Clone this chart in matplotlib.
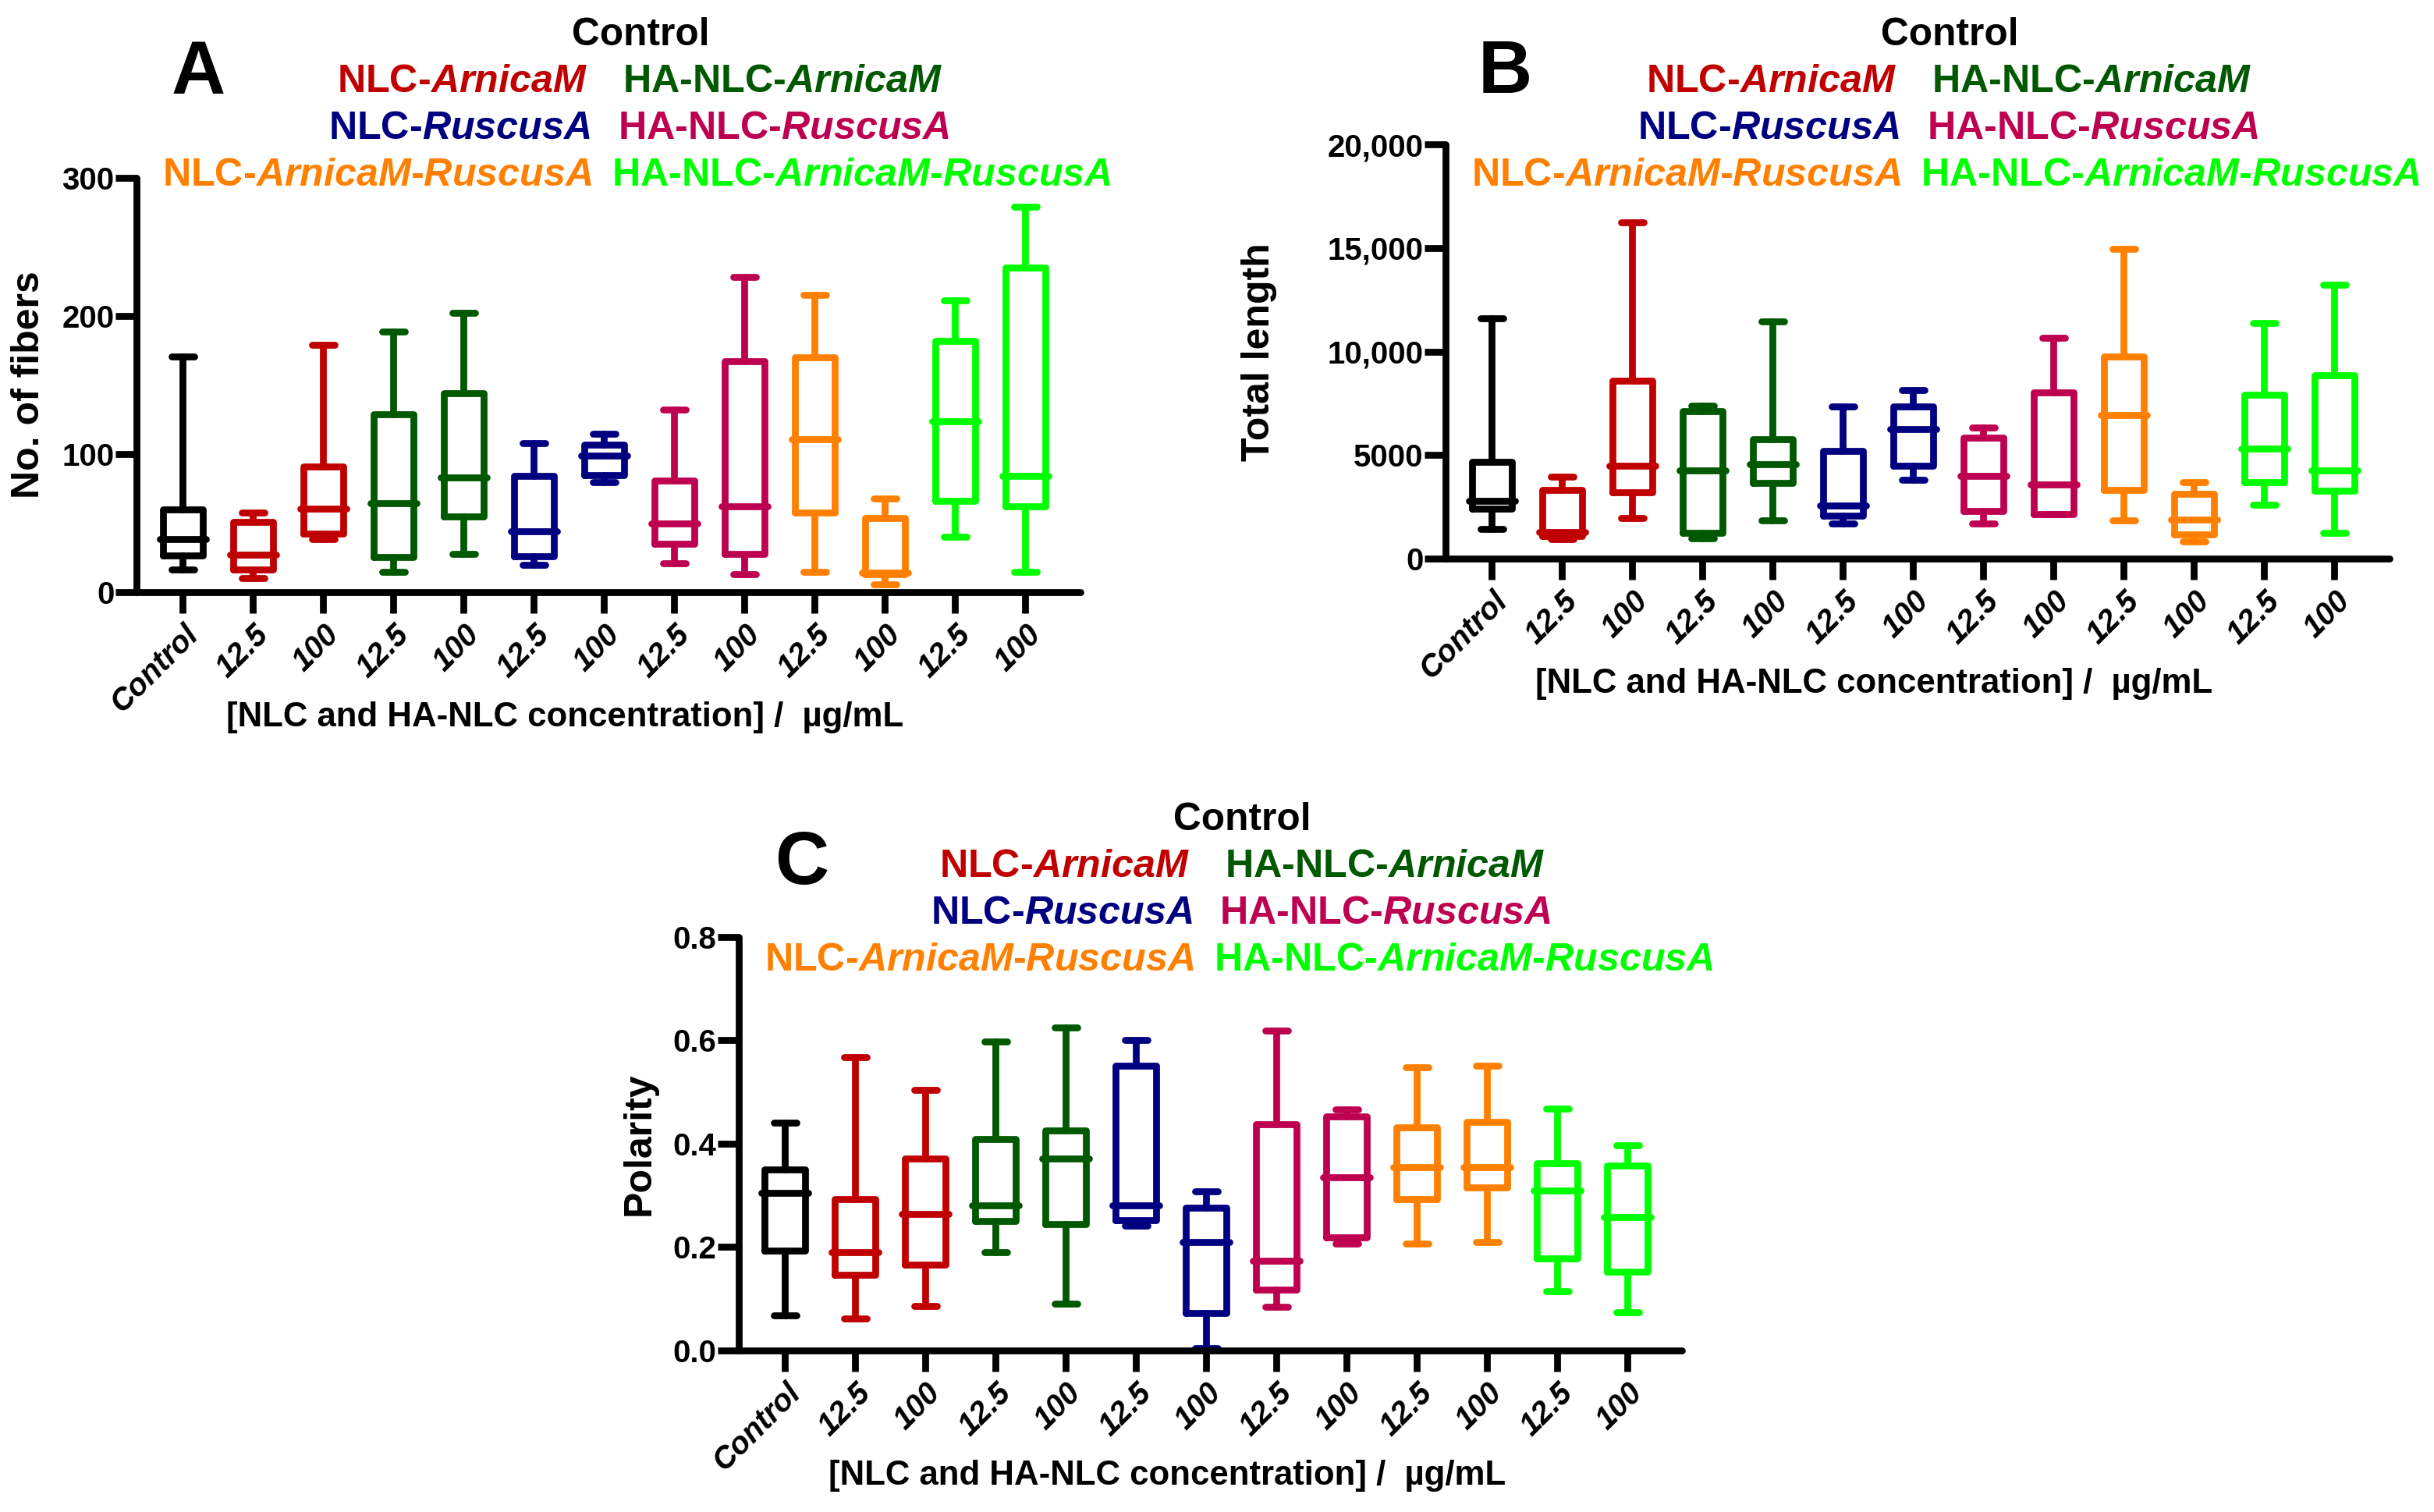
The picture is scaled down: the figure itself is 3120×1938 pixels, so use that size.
import matplotlib
matplotlib.use("Agg")
import matplotlib.pyplot as plt
from matplotlib.transforms import ScaledTranslation

#%% Data

categories = ["Control", "12.5", "100", "12.5", "100", "12.5", "100",
              "12.5", "100", "12.5", "100", "12.5", "100"]

black, red, dgreen, navy = "#000000", "#C00000", "#005800", "#000080"
crimson, orange, lime = "#BE0050", "#FF8000", "#00FF00"
box_colors = [black, red, red, dgreen, dgreen, navy, navy,
              crimson, crimson, orange, orange, lime, lime]

legend_rows = [
    ("NLC-$\\mathit{ArnicaM}$", red, "HA-NLC-$\\mathit{ArnicaM}$", dgreen),
    ("NLC-$\\mathit{RuscusA}$", navy, "HA-NLC-$\\mathit{RuscusA}$", crimson),
    ("NLC-$\\mathit{ArnicaM}$-$\\mathit{RuscusA}$", orange,
     "HA-NLC-$\\mathit{ArnicaM}$-$\\mathit{RuscusA}$", lime),
]

# A: number of fibers
fib_lo = [16.5, 10.5, 38.7, 14.7, 28, 20, 80, 21, 13, 15, 6, 40, 15]
fib_q1 = [26.9, 16.5, 42.3, 25.6, 55, 26, 85, 35, 28, 58, 13, 66, 62]
fib_med = [38.5, 27.3, 60.4, 64.5, 83, 44, 99, 50, 62, 111, 14, 124, 84]
fib_q3 = [59.8, 50.8, 90.9, 129, 144, 84, 107, 81, 167, 170, 54, 182, 235]
fib_hi = [170.8, 57.9, 178.9, 188.7, 202, 108, 115, 132, 228, 215, 68, 211, 279]

# B: total length
len_lo = [1420, 953, 1948, 980, 1850, 1690, 3790, 1690, 2130, 1850, 820, 2610, 1260]
len_q1 = [2423, 1105, 3203, 1232, 3660, 2060, 4500, 2290, 2150, 3310, 1170, 3680, 3290]
len_med = [2800, 1270, 4495, 4246, 4570, 2580, 6260, 4000, 3590, 6930, 1870, 5300, 4250]
len_q3 = [4684, 3304, 8580, 7133, 5760, 5210, 7360, 5850, 8020, 9760, 3110, 7930, 8870]
len_hi = [11594, 3968, 16240, 7385, 11470, 7340, 8140, 6350, 10670, 14970, 3700, 11380, 13230]

# C: polarity
pol_lo = [0.068, 0.062, 0.086, 0.190, 0.091, 0.241, 0.005, 0.084, 0.207, 0.207, 0.210, 0.115, 0.074]
pol_q1 = [0.193, 0.147, 0.166, 0.251, 0.244, 0.252, 0.073, 0.118, 0.218, 0.292, 0.315, 0.178, 0.153]
pol_med = [0.305, 0.190, 0.264, 0.281, 0.371, 0.280, 0.209, 0.173, 0.335, 0.355, 0.354, 0.310, 0.258]
pol_q3 = [0.350, 0.292, 0.371, 0.409, 0.425, 0.551, 0.276, 0.438, 0.452, 0.431, 0.442, 0.362, 0.358]
pol_hi = [0.440, 0.567, 0.504, 0.597, 0.625, 0.600, 0.307, 0.618, 0.466, 0.547, 0.550, 0.467, 0.397]

xlabel = "[NLC and HA-NLC concentration] /  \u00b5g/mL"

#%% Style

W, H, DPI = 3120, 1938, 100
LW = 6.3
AX_W = 1209.6

plt.rcParams["font.family"] = ["Liberation Sans", "DejaVu Sans"]
plt.rcParams["font.weight"] = "bold"
plt.rcParams["mathtext.fontset"] = "custom"
plt.rcParams["mathtext.it"] = "Liberation Sans:italic:bold"
plt.rcParams["mathtext.rm"] = "Liberation Sans:bold"

fig = plt.figure(figsize=(W / DPI, H / DPI), dpi=DPI)


def fx(px):
    return px / W


def fy(py):
    return 1 - py / H


def draw_panel(left, top, bottom, lo, q1, med, q3, hi, ylim, yticks,
               yticklabels, ylabel, ylabel_x, letter, letter_dx, letter_y,
               legend_dy):
    ax = fig.add_axes([fx(left), fy(bottom), AX_W / W, (bottom - top) / H])
    stats = [dict(whislo=a, q1=b, med=c, q3=d, whishi=e, fliers=[])
             for a, b, c, d, e in zip(lo, q1, med, q3, hi)]
    props = dict(linewidth=LW, solid_capstyle="round", solid_joinstyle="round")
    art = ax.bxp(stats, positions=range(len(stats)), widths=0.573,
                 capwidths=0.32, showfliers=False, manage_ticks=False,
                 boxprops=props, whiskerprops=props, capprops=props,
                 medianprops=props)
    for i, col in enumerate(box_colors):
        art["boxes"][i].set_color(col)
        art["medians"][i].set_color(col)
        art["medians"][i].set_xdata([i - 0.33, i + 0.33])
        for k in (2 * i, 2 * i + 1):
            art["whiskers"][k].set_color(col)
            art["caps"][k].set_color(col)

    ax.set_xlim(-0.66, 12.78)
    ax.set_ylim(ylim)
    ax.set_yticks(yticks)
    ax.set_yticklabels(yticklabels, fontsize=29, fontweight="bold")
    ax.set_xticks(range(len(categories)))
    ax.set_xticklabels(categories, rotation=45, ha="right", va="top",
                       rotation_mode="anchor", fontsize=28.5,
                       fontweight="bold", fontstyle="italic")
    shift = ScaledTranslation(0.05, 0, fig.dpi_scale_trans)
    for lab in ax.get_xticklabels():
        lab.set_transform(lab.get_transform() + shift)
    ax.tick_params(axis="x", length=19.4, width=LW, pad=6)
    ax.tick_params(axis="y", length=19.4, width=LW, pad=1)
    for s in ("top", "right"):
        ax.spines[s].set_visible(False)
    for s in ("left", "bottom"):
        ax.spines[s].set_linewidth(LW)
        ax.spines[s].set_capstyle("round")

    ax.set_ylabel(ylabel, fontsize=36, fontweight="bold")
    ax.yaxis.label.set_va("center")
    ax.yaxis.set_label_coords(ylabel_x, 0.5)
    ax.set_xlabel(xlabel, fontsize=31.5, fontweight="bold")
    ax.xaxis.label.set_va("center")
    ax.xaxis.set_label_coords(0.454, -0.302)

    # panel letter
    fig.text(fx(left + letter_dx), fy(letter_y), letter, fontsize=69,
             fontweight="bold", ha="center", va="baseline")

    # legend block
    fs = 36.2
    fig.text(fx(left + 646), fy(58.5 + legend_dy), "Control", color=black,
             fontsize=fs - 0.5, fontweight="bold", ha="center", va="baseline")
    row_y = [117.5, 178.3, 238.3]
    row_dx = [(578.6, 623), (582, 616.5), (584.4, 609)]
    for (ltxt, lcol, rtxt, rcol), yy, (dl, dr) in zip(legend_rows, row_y, row_dx):
        fig.text(fx(left + dl), fy(yy + legend_dy), ltxt, color=lcol,
                 fontsize=fs, fontweight="bold", ha="right", va="baseline")
        fig.text(fx(left + dr), fy(yy + legend_dy), rtxt, color=rcol,
                 fontsize=fs, fontweight="bold", ha="left", va="baseline")
    return ax


draw_panel(175, 227.8, 759.3, fib_lo, fib_q1, fib_med, fib_q3, fib_hi,
           (0, 300), [0, 100, 200, 300], ["0", "100", "200", "300"],
           "No. of fibers", -0.114, "A", 79, 120, 0)

draw_panel(1853, 185.3, 716, len_lo, len_q1, len_med, len_q3, len_hi,
           (0, 20000), [0, 5000, 10000, 15000, 20000],
           ["0", "5000", "10,000", "15,000", "20,000"],
           "Total length", -0.1976, "B", 76, 119, 0)

draw_panel(946.7, 1200.7, 1731, pol_lo, pol_q1, pol_med, pol_q3, pol_hi,
           (0, 0.8), [0, 0.2, 0.4, 0.6, 0.8],
           ["0.0", "0.2", "0.4", "0.6", "0.8"],
           "Polarity", -0.1047, "C", 81, 1133, 1006)

fig.savefig("out.png", dpi=DPI)
